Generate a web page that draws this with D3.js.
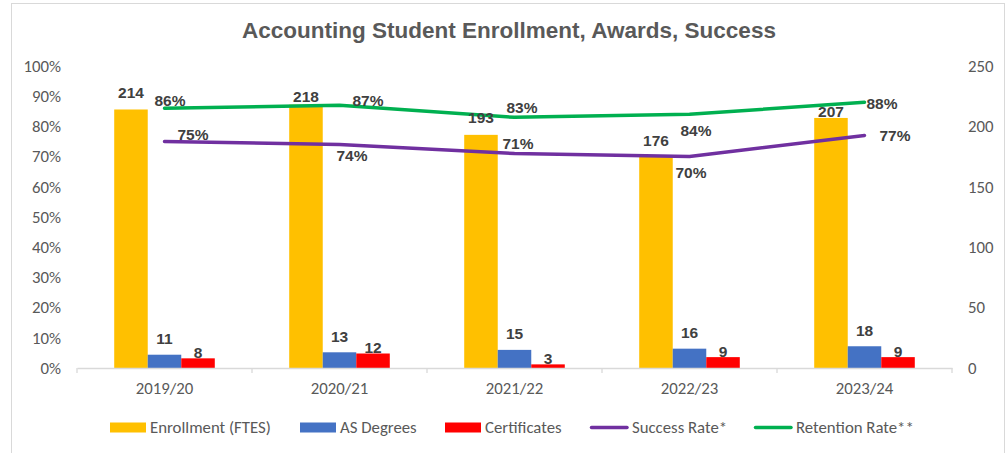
<!DOCTYPE html>
<html>
<head>
<meta charset="utf-8">
<script src="https://cdn.jsdelivr.net/npm/d3@7"></script>
<style>
  body { margin: 0; background: #fff; }
  svg { display: block; }
</style>
</head>
<body>
<div id="chart"></div>
<script>
// data
const years = ["2019/20", "2020/21", "2021/22", "2022/23", "2023/24"];
const enrollment = [214, 218, 193, 176, 207];
const asDegrees = [11, 13, 15, 16, 18];
const certificates = [8, 12, 3, 9, 9];
const successRate = [0.75, 0.74, 0.71, 0.70, 0.77];
const retentionRate = [0.86, 0.87, 0.83, 0.84, 0.88];
const pctTicks = [0, 0.1, 0.2, 0.3, 0.4, 0.5, 0.6, 0.7, 0.8, 0.9, 1];
const countTicks = [0, 50, 100, 150, 200, 250];

// label nudges (Excel labels were dragged around by hand)
const enrollLabelDy = [-17, -8, -17, -15, -6];
const retentionLabelPos = [[5.5, -8], [28.5, -5], [7.5, -10], [6.5, 16], [17.5, 1]];
const successLabelPos = [[28.5, -7.5], [12.5, 10.5], [3.5, -9.6], [1.5, 15.4], [30.5, 0.5]];

const width = 1007, height = 453;
const plotLeft = 77, plotRight = 952, plotTop = 66, plotBottom = 368;

const svg = d3.select("#chart").append("svg")
  .attr("width", width)
  .attr("height", height);

// chart frame
svg.append("rect")
  .attr("x", 11.5).attr("y", 3.5)
  .attr("width", 993).attr("height", 460)
  .attr("fill", "#fff")
  .attr("stroke", "#d9d9d9");

svg.append("text")
  .attr("x", 509).attr("y", 38)
  .attr("text-anchor", "middle")
  .style("font-family", "'Liberation Sans', Arial, sans-serif")
  .style("font-weight", "bold")
  .style("font-size", "22.5px")
  .style("fill", "#595959")
  .text("Accounting Student Enrollment, Awards, Success");

const x0 = d3.scaleBand().domain(years).range([plotLeft, plotRight]);
const series = ["enroll", "as", "cert"];
const x1 = d3.scaleBand().domain(series).range([0, x0.bandwidth()]).paddingOuter(1.11);
const yPct = d3.scaleLinear().domain([0, 1]).range([plotBottom, plotTop]);
const yCnt = d3.scaleLinear().domain([0, 250]).range([plotBottom, plotTop]);

const tickFont = "Carlito, Calibri, Lato, sans-serif";
const tickSize = "16.8px";

// left axis
const leftAxis = svg.append("g")
  .attr("transform", `translate(${plotLeft},0)`)
  .call(d3.axisLeft(yPct).tickValues(pctTicks).tickFormat(d3.format(".0%")).tickSize(0).tickPadding(16));
leftAxis.select(".domain").remove();
leftAxis.selectAll("text")
  .style("font-family", tickFont).style("font-size", tickSize).style("fill", "#595959");

// right axis
const rightAxis = svg.append("g")
  .attr("transform", `translate(${plotRight},0)`)
  .call(d3.axisRight(yCnt).tickValues(countTicks).tickSize(0).tickPadding(16));
rightAxis.select(".domain").remove();
rightAxis.selectAll("text")
  .style("font-family", tickFont).style("font-size", tickSize).style("fill", "#595959");

// bars
const colors = { enroll: "#FFC000", as: "#4472C4", cert: "#FF0000" };
const barData = years.map((y, i) => ({ year: y, enroll: enrollment[i], as: asDegrees[i], cert: certificates[i], i }));

const groups = svg.selectAll(".grp")
  .data(barData)
  .join("g")
  .attr("class", "grp")
  .attr("transform", d => `translate(${x0(d.year)},0)`);

groups.selectAll("rect")
  .data(d => series.map(s => ({ key: s, value: d[s] })))
  .join("rect")
  .attr("x", d => x1(d.key))
  .attr("width", x1.bandwidth())
  .attr("y", d => yCnt(d.value))
  .attr("height", d => plotBottom - yCnt(d.value))
  .attr("fill", d => colors[d.key]);

// x axis
const xAxis = svg.append("g")
  .attr("transform", `translate(0,${plotBottom})`)
  .call(d3.axisBottom(x0).tickSize(0).tickPadding(14));
xAxis.select(".domain").attr("stroke", "#d9d9d9").attr("stroke-width", 1.3);
xAxis.selectAll("text")
  .style("font-family", tickFont).style("font-size", tickSize).style("fill", "#595959");
svg.append("g").selectAll("line")
  .data(years.map(y => x0(y)).concat([plotRight]))
  .join("line")
  .attr("x1", d => d).attr("x2", d => d)
  .attr("y1", plotBottom).attr("y2", plotBottom + 5)
  .attr("stroke", "#d9d9d9").attr("stroke-width", 1.3);

// lines
const cx = d => x0(d) + x0.bandwidth() / 2;
const lineGen = d3.line().x(d => cx(d.year)).y(d => yPct(d.v));
const retData = years.map((y, i) => ({ year: y, v: retentionRate[i] }));
const sucData = years.map((y, i) => ({ year: y, v: successRate[i] }));

svg.append("path").datum(retData)
  .attr("d", lineGen).attr("fill", "none")
  .attr("stroke", "#00B050").attr("stroke-width", 3.5)
  .attr("stroke-linecap", "round").attr("stroke-linejoin", "round");
svg.append("path").datum(sucData)
  .attr("d", lineGen).attr("fill", "none")
  .attr("stroke", "#7030A0").attr("stroke-width", 3.5)
  .attr("stroke-linecap", "round").attr("stroke-linejoin", "round");

// data labels
const labelStyle = sel => sel
  .attr("text-anchor", "middle")
  .attr("dominant-baseline", "central")
  .style("font-family", "'Liberation Sans', Arial, sans-serif")
  .style("font-weight", "bold")
  .style("font-size", "15.5px")
  .style("fill", "#404040");

svg.append("g").selectAll("text")
  .data(barData)
  .join("text")
  .attr("x", d => x0(d.year) + x1("enroll") + x1.bandwidth() / 2)
  .attr("y", d => yCnt(d.enroll) + enrollLabelDy[d.i])
  .call(labelStyle)
  .text(d => d.enroll);

svg.append("g").selectAll("text")
  .data(barData)
  .join("text")
  .attr("x", d => x0(d.year) + x1("as") + x1.bandwidth() / 2)
  .attr("y", d => yCnt(d.as) - 16)
  .call(labelStyle)
  .text(d => d.as);

svg.append("g").selectAll("text")
  .data(barData)
  .join("text")
  .attr("x", d => x0(d.year) + x1("cert") + x1.bandwidth() / 2)
  .attr("y", d => yCnt(d.cert) - 6)
  .call(labelStyle)
  .text(d => d.cert);

const pct = d3.format(".0%");
svg.append("g").selectAll("text")
  .data(retData)
  .join("text")
  .attr("x", (d, i) => cx(d.year) + retentionLabelPos[i][0])
  .attr("y", (d, i) => yPct(d.v) + retentionLabelPos[i][1])
  .call(labelStyle)
  .text(d => pct(d.v));

svg.append("g").selectAll("text")
  .data(sucData)
  .join("text")
  .attr("x", (d, i) => cx(d.year) + successLabelPos[i][0])
  .attr("y", (d, i) => yPct(d.v) + successLabelPos[i][1])
  .call(labelStyle)
  .text(d => pct(d.v));

// legend
const legendItems = [
  { name: "Enrollment (FTES)", color: "#FFC000", type: "rect", x: 110 },
  { name: "AS Degrees", color: "#4472C4", type: "rect", x: 300 },
  { name: "Certificates", color: "#FF0000", type: "rect", x: 445 },
  { name: "Success Rate*", color: "#7030A0", type: "line", x: 590 },
  { name: "Retention Rate**", color: "#00B050", type: "line", x: 754 }
];
const legend = svg.append("g").selectAll("g")
  .data(legendItems)
  .join("g")
  .attr("transform", d => `translate(${d.x},427.5)`);
legend.filter(d => d.type === "rect").append("rect")
  .attr("x", 0).attr("y", -5).attr("width", 36).attr("height", 10)
  .attr("fill", d => d.color);
legend.filter(d => d.type === "line").append("line")
  .attr("x1", 1.5).attr("x2", 37).attr("y1", 0).attr("y2", 0)
  .attr("stroke", d => d.color).attr("stroke-width", 3.5)
  .attr("stroke-linecap", "round");
legend.append("text")
  .attr("x", d => d.type === "rect" ? 40 : 42)
  .attr("y", 0)
  .attr("dominant-baseline", "central")
  .style("font-family", tickFont)
  .style("font-size", tickSize)
  .style("fill", "#595959")
  .text(d => d.name);
</script>
</body>
</html>
